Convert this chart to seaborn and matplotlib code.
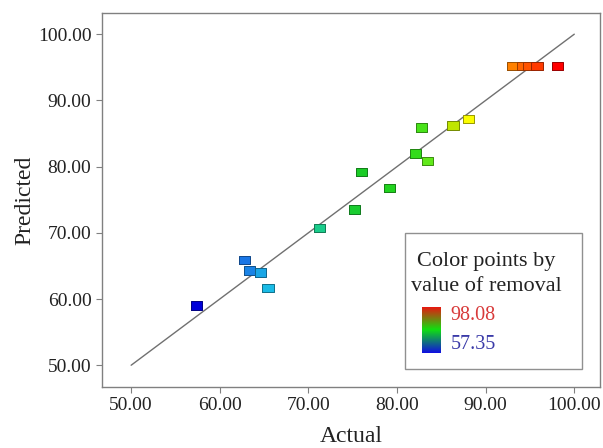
import matplotlib.pyplot as plt
import numpy as np
import pandas as pd
import seaborn as sns
from matplotlib.colors import LinearSegmentedColormap
from matplotlib.patches import Rectangle

# values
actual = [57.35, 62.8, 63.35, 64.6, 65.45, 71.25, 75.2, 75.96, 79.15, 82.05,
          82.8, 83.4, 86.3, 88.1, 93.1, 94.2, 94.8, 95.8, 98.08]
predicted = [59.0, 65.85, 64.3, 64.0, 61.7, 70.75, 73.5, 79.15, 76.8, 82.0,
             85.9, 80.8, 86.2, 87.2, 95.2, 95.2, 95.2, 95.2, 95.2]
tick_vals = [50, 60, 70, 80, 90, 100]
removal_min, removal_max = 57.35, 98.08

sns.set_theme(style="ticks")
plt.rcParams['font.family'] = ['Liberation Serif', 'DejaVu Serif']

cmap = LinearSegmentedColormap.from_list("removal", [
    (0.0, (0.0, 0.0, 0.85)),
    (0.13, (0.1, 0.45, 0.9)),
    (0.2, (0.1, 0.75, 0.9)),
    (0.34, (0.1, 0.8, 0.55)),
    (0.45, (0.1, 0.8, 0.15)),
    (0.6, (0.15, 0.85, 0.1)),
    (0.66, (0.5, 0.95, 0.1)),
    (0.71, (0.75, 0.9, 0.0)),
    (0.76, (1.0, 1.0, 0.0)),
    (0.88, (1.0, 0.5, 0.0)),
    (1.0, (1.0, 0.0, 0.0)),
])

df = pd.DataFrame({'Actual': actual, 'Predicted': predicted})

fig = plt.figure(figsize=(6.03, 4.48), dpi=100)
ax = fig.add_axes([0.169, 0.136, 0.826, 0.835])

ax.plot([50, 100], [50, 100], color='#707070', lw=1.0, zorder=1)

rect = [(-1.35, -1), (1.35, -1), (1.35, 1), (-1.35, 1), (-1.35, -1)]
sns.scatterplot(data=df, x='Actual', y='Predicted', hue='Actual',
                palette=cmap, hue_norm=(removal_min, removal_max),
                marker=rect, s=66, linewidth=0.7,
                legend=False, ax=ax, zorder=3)
# darker outline of each square's own colour
pts = ax.collections[-1]
fc = pts.get_facecolors()
ec = fc.copy()
ec[:, :3] = fc[:, :3] * 0.6
pts.set_edgecolors(ec)

ax.set_xlim(46.7, 102.9)
ax.set_ylim(46.7, 103.2)
ax.set_xticks(tick_vals)
ax.set_yticks(tick_vals)
ax.set_xticklabels([f"{v:.2f}" for v in tick_vals])
ax.set_yticklabels([f"{v:.2f}" for v in tick_vals])
ax.tick_params(labelsize=14, colors='#808080', labelcolor='#222222', length=4, width=0.8)
for sp in ax.spines.values():
    sp.set_color('#808080')
    sp.set_linewidth(1.0)
ax.set_xlabel('Actual', fontsize=17, color='#222222', labelpad=8)
ax.set_ylabel('Predicted', fontsize=17, color='#222222', labelpad=2)

# colour legend box
ax.add_patch(Rectangle((0.608, 0.048), 0.356, 0.364, transform=ax.transAxes,
                       facecolor='white', edgecolor='#909090', lw=1.0, zorder=4))
ax.text(0.771, 0.335, 'Color points by', transform=ax.transAxes, ha='center',
        va='center', fontsize=16, color='#222222', zorder=5)
ax.text(0.771, 0.268, 'value of removal', transform=ax.transAxes, ha='center',
        va='center', fontsize=16, color='#222222', zorder=5)
ax.text(0.7, 0.192, f"{removal_max:.2f}", transform=ax.transAxes, ha='left',
        va='center', fontsize=14.5, color='#d83a3a', zorder=5)
ax.text(0.7, 0.115, f"{removal_min:.2f}", transform=ax.transAxes, ha='left',
        va='center', fontsize=14.5, color='#3a3aa8', zorder=5)

cax = ax.inset_axes([0.643, 0.092, 0.038, 0.123])
cax.imshow(np.linspace(1, 0, 100).reshape(-1, 1), aspect='auto',
           cmap=LinearSegmentedColormap.from_list("bar", ['#1010e0', '#10e010', '#f01010']))
cax.set_axis_off()

fig.savefig('out.png', dpi=100)
